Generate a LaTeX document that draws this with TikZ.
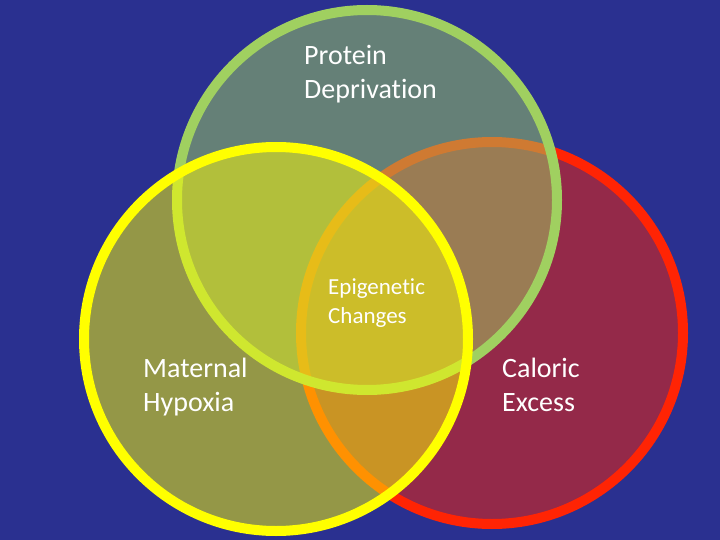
\documentclass[tikz,border=0pt]{standalone}
\usepackage{fontspec}
\setmainfont{Carlito}[Ligatures=NoCommon]
\definecolor{bg}{RGB}{42,48,144}
\definecolor{cred}{RGB}{255,36,4}
\definecolor{cgreen}{RGB}{160,208,96}
\definecolor{cyellow}{RGB}{255,255,0}
\tikzset{
  venn/.style={line width=10pt, fill opacity=0.5},
  biglabel/.style={anchor=base west, inner sep=0pt, text=white, font=\fontsize{28}{34}\selectfont},
  smalllabel/.style={anchor=base west, inner sep=0pt, text=white, font=\fontsize{23}{29}\selectfont}
}
\begin{document}
\begin{tikzpicture}[x=1pt,y=-1pt]
  \fill[bg] (0,0) rectangle (720,540);
  \useasboundingbox (0,0) rectangle (720,540);
  \draw[venn, draw=cred, fill=cred] (492,333) circle[radius=191];
  \draw[venn, draw=cgreen, fill=cgreen] (367,200) circle[radius=190];
  \draw[venn, draw=cyellow, fill=cyellow] (276,339) circle[radius=192];
  \node[biglabel] (protein) at (304,65) {\begin{tabular}[t]{@{}l@{}}Protein\\Deprivation\end{tabular}};
  \node[smalllabel] (epi) at (328,294) {\begin{tabular}[t]{@{}l@{}}Epigenetic\\Changes\end{tabular}};
  \node[biglabel] (maternal) at (143,377) {\begin{tabular}[t]{@{}l@{}}Maternal\\Hypoxia\end{tabular}};
  \node[biglabel] (caloric) at (502,377) {\begin{tabular}[t]{@{}l@{}}Caloric\\Excess\end{tabular}};
\end{tikzpicture}
\end{document}
